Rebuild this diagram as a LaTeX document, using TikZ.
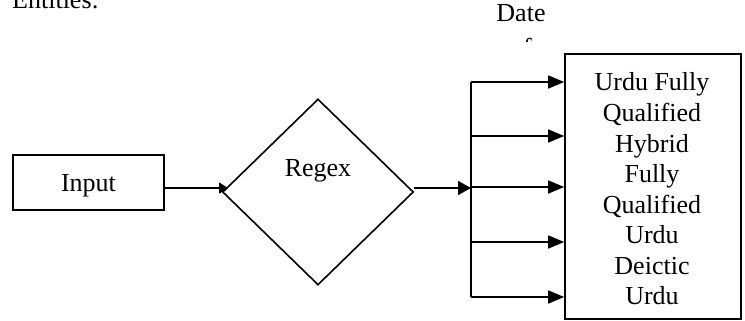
\documentclass[tikz,border=0pt]{standalone}
\usepackage{fontspec}
\setmainfont{Liberation Serif}
\usetikzlibrary{arrows.meta,shapes.geometric}
\begin{document}
\begin{tikzpicture}[x=1pt,y=-1pt,
  font=\fontsize{26}{30.57}\selectfont,
  box/.style={draw,line width=1.6pt,inner sep=0pt},
  conn/.style={line width=1.6pt},
  arr/.style={conn,-{Triangle[length=16pt,width=13pt]}},
  txt/.style={inner sep=0pt,anchor=base}]
\useasboundingbox (0,0) rectangle (745,321);
% stray page text
\node[txt,anchor=base west] (ent) at (12,9) {Entities:};
\node[txt] (date) at (521,22) {Date};
\begin{scope}
  \clip (400,0) rectangle (640,41.5);
  \node[txt] (of) at (521,57) {of};
\end{scope}
% nodes
\node[box,minimum width=151pt,minimum height=55pt] (in) at (88.5,182.5) {};
\node[txt] (intext) at (88.5,191) {Input};
\node[box,diamond,minimum width=191pt,minimum height=186pt] (reg) at (318,192) {};
\node[txt] (regtext) at (318,176) {Regex};
\node[box,minimum width=176pt,minimum height=265pt] (out) at (653,186.5) {};
\foreach \t [count=\i from 0] in {Urdu Fully,Qualified,Hybrid,Fully,Qualified,Urdu,Deictic,Urdu}
  \node[txt] (l\i) at (652,91+30.57*\i) {\t};
% connectors
\coordinate (j) at (471,188);
\coordinate (t1) at (471,82);
\coordinate (t2) at (471,136);
\coordinate (t3) at (471,187);
\coordinate (t4) at (471,242);
\coordinate (t5) at (471,297);
\draw[conn,-{Triangle[length=9pt,width=11pt]}] (in.east |- j) -- (228,188);
\draw[conn,-{Triangle[length=13pt,width=14pt]}] (reg.east |- j) -- (j);
\draw[conn] (t1) -- (t5);
\foreach \k in {1,...,5}
  \draw[arr] (t\k) -- (t\k -| out.west);
\end{tikzpicture}
\end{document}
